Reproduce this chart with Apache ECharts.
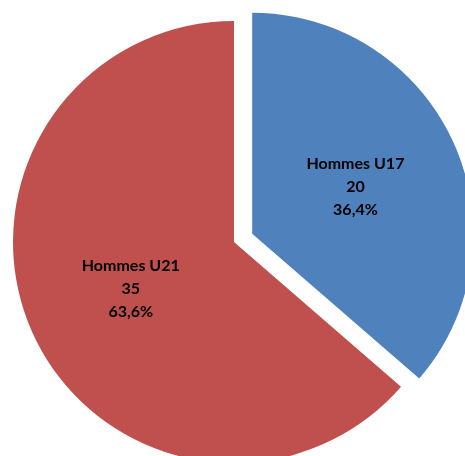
<!DOCTYPE html>
<html>
<head>
<meta charset="utf-8">
<script src="https://cdn.jsdelivr.net/npm/echarts@6/dist/echarts.min.js"></script>
<style>
  html, body { margin: 0; padding: 0; background: #fff; }
  #chart { width: 465px; height: 456px; }
</style>
</head>
<body>
<div id="chart"></div>
<script>
// data
const categories = ['Hommes U17', 'Hommes U21'];
const values = [20, 35];
const colors = ['#4F81BD', '#C0504D'];

const chart = echarts.init(document.getElementById('chart'));

const pieData = categories.map((name, i) => ({
  name: name,
  value: values[i],
  selected: i === 0,
  itemStyle: { color: colors[i] },
  // U17 label sits a bit lower in the original
  label: i === 0 ? { offset: [-3, 5] } : {}
}));

const option = {
  animation: false,
  series: [
    {
      type: 'pie',
      center: [234, 242],
      radius: 221,
      startAngle: 90,
      clockwise: true,
      selectedMode: 'single',
      selectedOffset: 20,
      data: pieData,
      label: {
        position: 'inside',
        fontFamily: 'Lato',
        fontWeight: 'bold',
        fontSize: 16,
        lineHeight: 23,
        color: '#000',
        formatter: function (p) {
          return p.name + '\n' + p.value + '\n' + p.percent.toFixed(1).replace('.', ',') + '%';
        }
      },
      labelLine: { show: false },
      emphasis: { disabled: true }
    }
  ]
};

chart.setOption(option);
window.onresize = function () {
  chart.resize();
};
</script>
</body>
</html>
